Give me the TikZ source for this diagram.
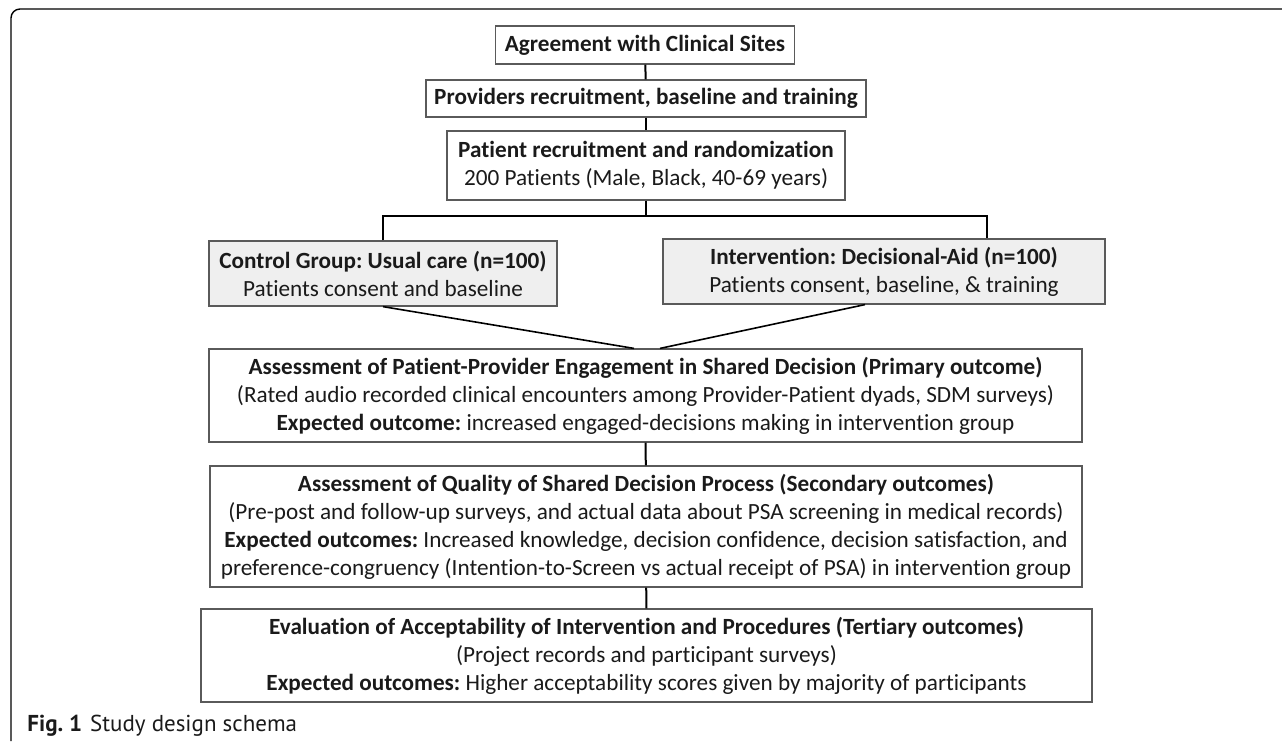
\documentclass[tikz,border=0pt]{standalone}
\usepackage{fontspec}
\setmainfont[Ligatures=NoCommon]{Carlito}
\newfontfamily\capfont{PT Sans}
\usetikzlibrary{calc}
\definecolor{Frame}{HTML}{5a5a5a}
\definecolor{GroupFill}{HTML}{efefef}
\definecolor{Ink}{HTML}{1a1a1a}
\def\expt#1{\textbf{#1}}
\frenchspacing

\begin{document}
\begin{tikzpicture}[
    x=0.5pt, y=-0.5pt,
    stepBox/.style={draw=Frame, line width=0.6pt, rectangle, align=center, inner sep=0pt,
      text=Ink, font=\fontsize{11.6}{14}\selectfont},
    groupBox/.style={stepBox, fill=GroupFill},
    link/.style={draw=black, line width=1pt},
    frameLine/.style={draw=black, line width=0.7pt, rounded corners=4.5pt},
  ]
  \useasboundingbox (0,0) rectangle (1282,741);
  % frame
  \draw[frameLine] (11,741) -- (11,9) -- (1282,9);
  % stages
  \node[stepBox, minimum width=149.5pt, minimum height=19pt] (agreeSites) at (645,45)
    {\textbf{Agreement with Clinical Sites}};
  \node[stepBox, minimum width=220pt, minimum height=18.5pt] (recruitProviders) at (646,98.5)
    {\textbf{Providers recruitment, baseline and training}};
  \node[stepBox, minimum width=199pt, minimum height=34.5pt] (recruitPatients) at (646,165.5)
    {\textbf{Patient recruitment and randomization}\\200 Patients (Male, Black, 40-69 years)};
  \node[groupBox, minimum width=174pt, minimum height=32.5pt] (controlGrp) at (383,273.5)
    {\textbf{Control Group: Usual care (n=100)}\\Patients consent and baseline};
  \node[groupBox, minimum width=221pt, minimum height=32.5pt] (interventionGrp) at (884,271.5)
    {\textbf{Intervention: Decisional-Aid (n=100)}\\Patients consent, baseline, \& training};
  \node[stepBox, minimum width=436.5pt, minimum height=46.5pt] (primaryOut) at (645.5,395.5)
    {\textbf{Assessment of Patient-Provider Engagement in Shared Decision (Primary outcome)}\\
     (Rated audio recorded clinical encounters among Provider-Patient dyads, SDM surveys)\\
     \expt{Expected outcome:} increased engaged-decisions making in intervention group};
  \node[stepBox, minimum width=436pt, minimum height=60.5pt] (secondaryOut) at (646,526.5)
    {\textbf{Assessment of Quality of Shared Decision Process (Secondary outcomes)}\\
     (Pre-post and follow-up surveys, and actual data about PSA screening in medical records)\\
     \expt{Expected outcomes:} Increased knowledge, decision confidence, decision satisfaction, and\\
     preference-congruency (Intention-to-Screen vs actual receipt of PSA) in intervention group};
  \node[stepBox, minimum width=445.5pt, minimum height=46.5pt] (tertiaryOut) at (646.5,655.5)
    {\textbf{Evaluation of Acceptability of Intervention and Procedures (Tertiary outcomes)}\\
     (Project records and participant surveys)\\
     \expt{Expected outcomes:} Higher acceptability scores given by majority of participants};
  % lines
  \draw[link] (agreeSites) -- (recruitProviders);
  \draw[link] (recruitProviders) -- (recruitPatients);
  \draw[link] (recruitPatients.south) -- ++(0,15) coordinate (forkC);
  \draw[link] (controlGrp.north) |- (forkC) -| ($(interventionGrp.north)+(103,0)$);
  \draw[link, line width=0.8pt] (controlGrp.south) -- ($(primaryOut.north)+(-11.5,0)$);
  \draw[link, line width=0.8pt] ($(interventionGrp.south)+(-19,0)$) -- ($(primaryOut.north)+(14.5,0)$);
  \draw[link] (primaryOut) -- (secondaryOut);
  \draw[link] (secondaryOut) -- (tertiaryOut);
  % caption
  \node[anchor=west, inner sep=0pt, text=Ink, font=\capfont\fontsize{11.5}{13}\selectfont] (figCaption) at (27,726)
    {\textbf{Fig. 1}\hspace{4pt}Study design schema};
\end{tikzpicture}
\end{document}
